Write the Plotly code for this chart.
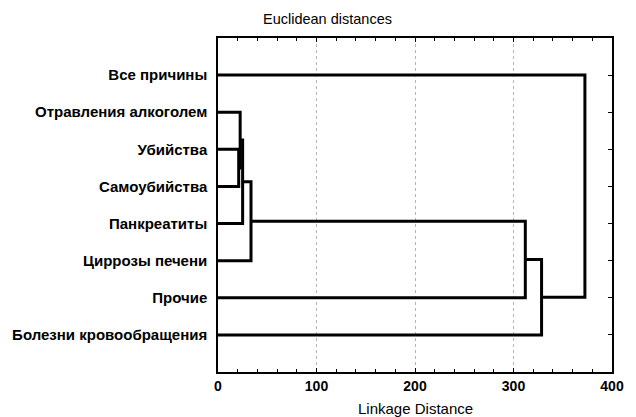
import plotly.graph_objects as go

# ---- data ----
leaves = ["Все причины", "Отравления алкоголем", "Убийства", "Самоубийства",
          "Панкреатиты", "Циррозы печени", "Прочие", "Болезни кровообращения"]
# merges: node ids 0..7 are leaves, new clusters get ids 8, 9, ...
merge_left = [2, 1, 9, 10, 11, 12, 0]
merge_right = [3, 8, 4, 5, 6, 7, 13]
merge_height = [21.0, 22.5, 25.0, 33.5, 312.0, 328.5, 372.5]
x_ticks = [0, 100, 200, 300, 400]

# ---- build dendrogram geometry from the linkage ----
node_y = {i: i + 1 for i in range(len(leaves))}
node_h = {i: 0.0 for i in range(len(leaves))}
xs, ys = [], []
for k, (a, b, h) in enumerate(zip(merge_left, merge_right, merge_height)):
    nid = len(leaves) + k
    xs += [node_h[a], h, h, node_h[b], None]
    ys += [node_y[a], node_y[a], node_y[b], node_y[b], None]
    node_y[nid] = (node_y[a] + node_y[b]) / 2
    node_h[nid] = h

fig = go.Figure()
fig.add_trace(go.Scatter(x=xs, y=ys, mode="lines",
                         line=dict(color="black", width=3),
                         hoverinfo="skip", showlegend=False))

font_fam = "Liberation Sans, Arial, sans-serif"
fig.update_layout(
    width=636, height=417,
    margin=dict(l=217, r=20, t=38, b=45),
    paper_bgcolor="white", plot_bgcolor="white",
    font=dict(family=font_fam, color="black"),
    xaxis=dict(range=[0, 400], tickvals=x_ticks, ticks="inside", ticklen=4,
               tickcolor="black", showline=True, linecolor="black", linewidth=1.5,
               mirror="allticks", showgrid=True, gridcolor="#b5b5b5", griddash="dot",
               gridwidth=1, zeroline=False,
               minor=dict(dtick=20, ticks="inside", ticklen=3, tickcolor="black", showgrid=False),
               tickfont=dict(family=font_fam, size=14, weight="bold", color="black")),
    yaxis=dict(range=[9, 0], tickvals=list(range(1, len(leaves) + 1)), ticktext=leaves,
               ticks="inside", ticklen=4, tickcolor="black", showline=True,
               linecolor="black", linewidth=1.5, mirror="allticks", showgrid=False,
               zeroline=False, ticklabelstandoff=6,
               tickfont=dict(family=font_fam, size=15, weight="bold", color="black")),
    annotations=[
        dict(text="Euclidean distances", xref="paper", yref="paper",
             x=(327.5 - 217) / 399, y=1 + (38 - 19) / 334, xanchor="center", yanchor="middle",
             showarrow=False, font=dict(family=font_fam, size=14.5, color="black")),
        dict(text="Linkage Distance", xref="paper", yref="paper",
             x=0.5, y=(372 - 408) / 334, xanchor="center", yanchor="middle",
             showarrow=False, font=dict(family=font_fam, size=15, color="black")),
    ],
)

fig.write_html("out.html")
